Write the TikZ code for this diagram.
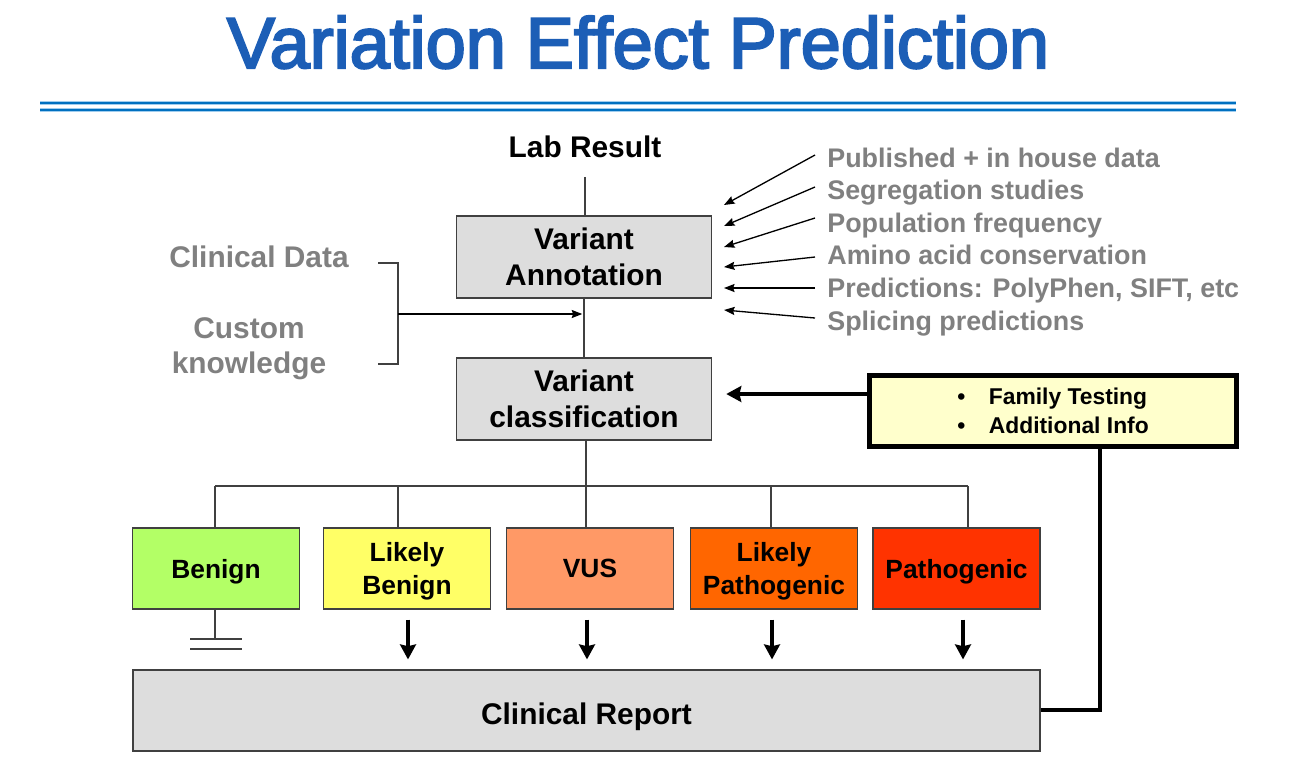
\documentclass[tikz,border=0pt]{standalone}
\usepackage{fontspec}
\setmainfont{Liberation Sans}
\newfontfamily\titlefont{Liberation Sans}[FakeBold=3]
\usetikzlibrary{arrows.meta}
\definecolor{titleblue}{RGB}{28,94,182}
\definecolor{ruleblue}{RGB}{0,112,192}
\definecolor{rulelight}{RGB}{160,205,238}
\definecolor{boxgray}{RGB}{221,221,221}
\definecolor{edgegray}{RGB}{64,64,64}
\definecolor{labelgray}{RGB}{128,128,128}
\definecolor{yellowbox}{RGB}{255,255,204}
\definecolor{cBenign}{RGB}{179,255,102}
\definecolor{cLBenign}{RGB}{255,255,102}
\definecolor{cVUS}{RGB}{255,153,102}
\definecolor{cLPath}{RGB}{255,102,0}
\definecolor{cPath}{RGB}{255,51,0}
\begin{document}
\begin{tikzpicture}[x=0.02cm,y=-0.02cm,
  box/.style={draw=edgegray, line width=0.85pt, fill=boxgray, align=center, inner sep=0pt,
    text depth=0pt, font=\bfseries\fontsize{17}{20.6}\selectfont},
  cat/.style={draw=edgegray, line width=0.85pt, align=center, inner sep=0pt, text depth=0pt,
    minimum width=3.34cm, minimum height=1.62cm, font=\bfseries\fontsize{15}{18.7}\selectfont},
  conn/.style={draw=edgegray, line width=0.85pt},
  side/.style={text=labelgray, font=\bfseries\fontsize{15.3}{18}\selectfont, anchor=base west, inner sep=0pt},
  lside/.style={text=labelgray, font=\bfseries\fontsize{17}{20}\selectfont, inner sep=0pt, align=center},
  thinarrow/.style={draw=black, line width=0.75pt, -{Stealth[length=6pt,width=4.6pt,inset=0.8pt]}},
  boldarrow/.style={draw=black, line width=2.7pt, -{Stealth[length=8.5pt,width=9pt,inset=1pt]}},
  heavy/.style={draw=black, line width=2.3pt},
]
\useasboundingbox (0,0) rectangle (1300,775);

% title and rules
\node[anchor=base, text=titleblue, inner sep=0pt, font=\titlefont\fontsize{41}{48}\selectfont] (title) at (638,68) {Variation Effect Prediction};
\draw[rulelight, line width=2.6pt] (40,103) -- (1236,103);
\draw[ruleblue, line width=1.2pt] (40,103) -- (1236,103);
\draw[rulelight, line width=2.6pt] (40,110) -- (1236,110);
\draw[ruleblue, line width=1.2pt] (40,110) -- (1236,110);

% main column
\node[anchor=base, inner sep=0pt, font=\bfseries\fontsize{17}{20}\selectfont] (lab) at (585,157) {Lab Result};
\node[box, minimum width=5.1cm, minimum height=1.64cm] (ann) at (584,257) {Variant\\Annotation};
\node[box, minimum width=5.1cm, minimum height=1.64cm] (cls) at (584,399) {Variant\\classification};
\draw[conn, shorten <=11pt] (lab.south) -- (lab.south |- ann.north);
\draw[conn] (ann.south) -- (cls.north);

% left inputs
\node[lside, anchor=base] (cd) at (259,267) {Clinical Data};
\node[lside] (ck) at (249,349) {Custom\\knowledge};
\coordinate (bt) at (378,263);
\coordinate (bm) at (398,314);
\coordinate (bb) at (378,364);
\draw[conn] (bt) -| (bm) |- (bb);
\draw[thinarrow, shorten >=1pt] (bm) -- (bm -| ann);

% right inputs
\node[side] (s1) at (827,167) {Published + in house data};
\node[side] (s2) at (827,199.6) {Segregation studies};
\node[side] (s3) at (827,232.2) {Population frequency};
\node[side] (s4) at (827,264.8) {Amino acid conservation};
\node[side] (s5) at (827,297.4) {Predictions: PolyPhen, SIFT, etc};
\node[side] (s6) at (827,330) {Splicing predictions};
\coordinate (p1) at (815,155); \coordinate (q1) at (724,205);
\coordinate (p2) at (815,187); \coordinate (q2) at (724,226);
\coordinate (p3) at (815,218); \coordinate (q3) at (724,247);
\coordinate (p4) at (815,257); \coordinate (q4) at (724,267);
\coordinate (p5) at (815,288); \coordinate (q5) at (724,288);
\coordinate (p6) at (815,318); \coordinate (q6) at (724,310);
\foreach \i in {1,...,6} {\draw[thinarrow] (p\i) -- (q\i);}

% family testing box
\node[draw=black, line width=2.8pt, fill=yellowbox, minimum width=7.34cm, minimum height=1.42cm,
  inner sep=0pt, align=left, font=\bfseries\fontsize{13}{16.4}\selectfont] (yel) at (1053,411)
  {\makebox[18pt][l]{\textbullet}Family Testing\\\makebox[18pt][l]{\textbullet}Additional Info};
\coordinate (ya) at (869,394);
\draw[boldarrow, line width=2.4pt, shorten >=8pt] (ya) -- (ya -| cls.east);

% categories
\node[cat, fill=cBenign] (ben) at (216,568.5) {Benign};
\node[cat, fill=cLBenign] (lb) at (407,568.5) {Likely\\Benign};
\node[cat, fill=cVUS] (vus) at (590,568.5) {VUS};
\node[cat, fill=cLPath] (lp) at (774,568.5) {Likely\\Pathogenic};
\node[cat, fill=cPath] (pat) at (956.5,568.5) {Pathogenic};

\coordinate (d1) at (215,486);
\coordinate (d2) at (398,486);
\coordinate (d3) at (586,486);
\coordinate (d4) at (771,486);
\coordinate (d5) at (968,486);
\draw[conn] (cls.south -| d3) -- (d3);
\draw[conn] (d1) -- (d5);
\draw[conn] (d1) -- (d1 |- ben.north);
\draw[conn] (d2) -- (d2 |- lb.north);
\draw[conn] (d4) -- (d4 |- lp.north);
\draw[conn] (d5) -- (d5 |- pat.north);
\draw[conn] (d3) -- (d3 |- vus.north);

% ground under benign
\coordinate (g) at (215,639);
\draw[conn] (ben.south -| g) -- (g);
\draw[conn] (190,639) -- (242,639);
\draw[conn] (190,649) -- (242,649);

% clinical report
\node[box, minimum width=18.14cm, minimum height=1.62cm, text height=16.4pt] (rep) at (586.5,710.5) {Clinical Report};

\coordinate (x2) at (408,640);
\coordinate (x3) at (587,640);
\coordinate (x4) at (772,640);
\coordinate (x5) at (963,640);
\draw[boldarrow, shorten <=5.6pt, shorten >=5.6pt] (lb.south -| x2) -- (x2 |- rep.north);
\draw[boldarrow, shorten <=5.6pt, shorten >=5.6pt] (vus.south -| x3) -- (x3 |- rep.north);
\draw[boldarrow, shorten <=5.6pt, shorten >=5.6pt] (lp.south -| x4) -- (x4 |- rep.north);
\draw[boldarrow, shorten <=5.6pt, shorten >=5.6pt] (pat.south -| x5) -- (x5 |- rep.north);

% feedback line
\coordinate (yx) at (1100,710);
\draw[heavy] (yel.south -| yx) -- (yx) -- (rep.east |- yx);
\end{tikzpicture}
\end{document}
